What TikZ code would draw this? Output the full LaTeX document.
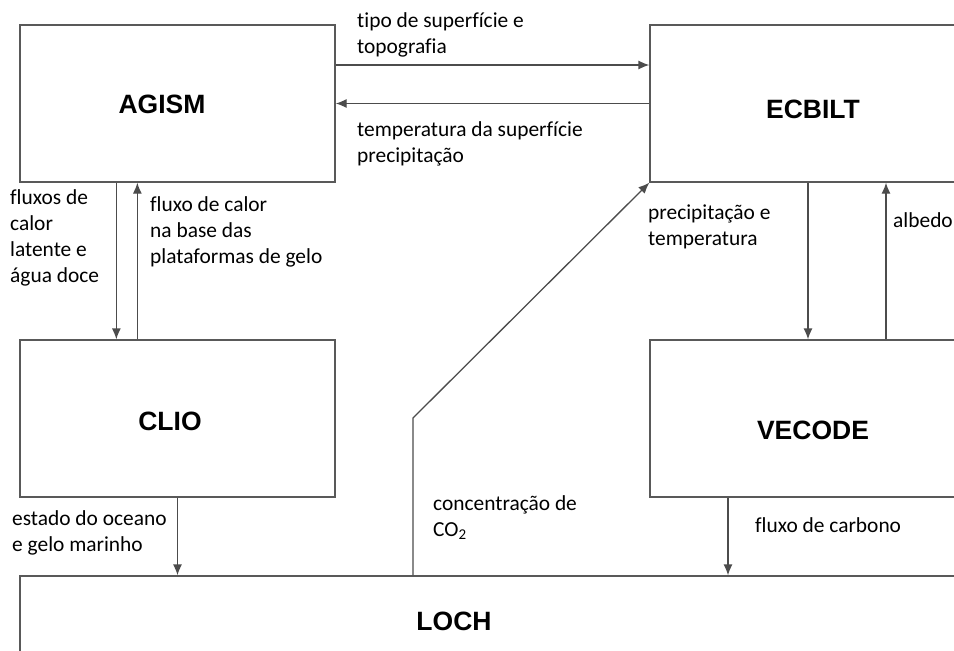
\documentclass[tikz,border=0pt]{standalone}
\usepackage{fontspec}
\setmainfont{Carlito}[Ligatures=CommonOff]
\newfontfamily\titlefont{Liberation Sans}
\usetikzlibrary{arrows.meta}

\begin{document}
\begin{tikzpicture}[x=1pt,y=-1pt,
    box/.style={draw=black!65,line width=1.3pt,minimum width=315pt,minimum height=157pt,inner sep=0pt},
    title/.style={font=\titlefont\bfseries\fontsize{26.5}{30}\selectfont},
    lbl/.style={anchor=base west,align=left,inner sep=0pt,font=\fontsize{21.4}{26}\selectfont},
    flow/.style={draw=black!70,line width=1.3pt,-{Latex[length=11pt,width=9pt]}}]
            \useasboundingbox (0,0) rectangle (954,651);
            \clip (0,0) rectangle (954,651);

            % model blocks
            \node[box] (agism) at (177.5,103.5) {};
            \node[box,minimum width=326pt] (ecbilt) at (813,103.5) {};
            \node[box] (clio) at (177.5,418.5) {};
            \node[box,minimum width=326pt] (vecode) at (813,418.5) {};
            \node[box,minimum width=980pt,minimum height=100pt] (loch) at (510,626) {};

            \node[title] (agismT) at (162,104) {AGISM};
            \node[title] (ecbiltT) at (813,109) {ECBILT};
            \node[title] (clioT) at (170,421) {CLIO};
            \node[title] (vecodeT) at (813,430) {VECODE};
            \node[title] (lochT) at (454,621) {LOCH};

            % couplings
            \draw[flow] ([yshift=38.5pt]agism.east) -- ([yshift=38.5pt]ecbilt.west);
            \draw[flow] (ecbilt.west) -- (agism.east);
            \draw[flow] ([xshift=97pt]agism.south west) -- ([xshift=97pt]clio.north west);
            \draw[flow] ([xshift=118pt]clio.north west) -- ([xshift=118pt]agism.south west);
            \draw[flow] (clio.south) -- (clio.south |- loch.north);
            \coordinate (co2bend) at (413,418);
            \draw[flow] (co2bend |- loch.north) -- (co2bend) -- (ecbilt.south west);
            \draw[flow] ([xshift=-5pt]ecbilt.south) -- ([xshift=-5pt]vecode.north);
            \draw[flow] ([xshift=73pt]vecode.north) -- ([xshift=73pt]ecbilt.south);
            \draw[flow] ([xshift=-85pt]vecode.south) -- ([xshift=-85pt]vecode.south |- loch.north);

            % labels (base = last line)
            \node[lbl] (topo) at (357,53) {tipo de superfície e\\topografia};
            \node[lbl] (tsurf) at (357,162) {temperatura da superfície\\precipitação};
            \node[lbl] (latent) at (10,282) {fluxos de\\calor\\latente e\\água doce};
            \node[lbl] (shelf) at (150,263) {fluxo de calor\\na base das\\plataformas de gelo};
            \node[lbl] (prec) at (648,245) {precipitação e\\temperatura};
            \node[lbl] (albedo) at (893,227) {albedo};
            \node[lbl] (ocean) at (12,551) {estado do oceano\\e gelo marinho};
            \node[lbl] (co2) at (433,536) {concentração de\\CO\textsubscript{2}};
            \node[lbl] (carbon) at (755,532) {fluxo de carbono};
\end{tikzpicture}
\end{document}
